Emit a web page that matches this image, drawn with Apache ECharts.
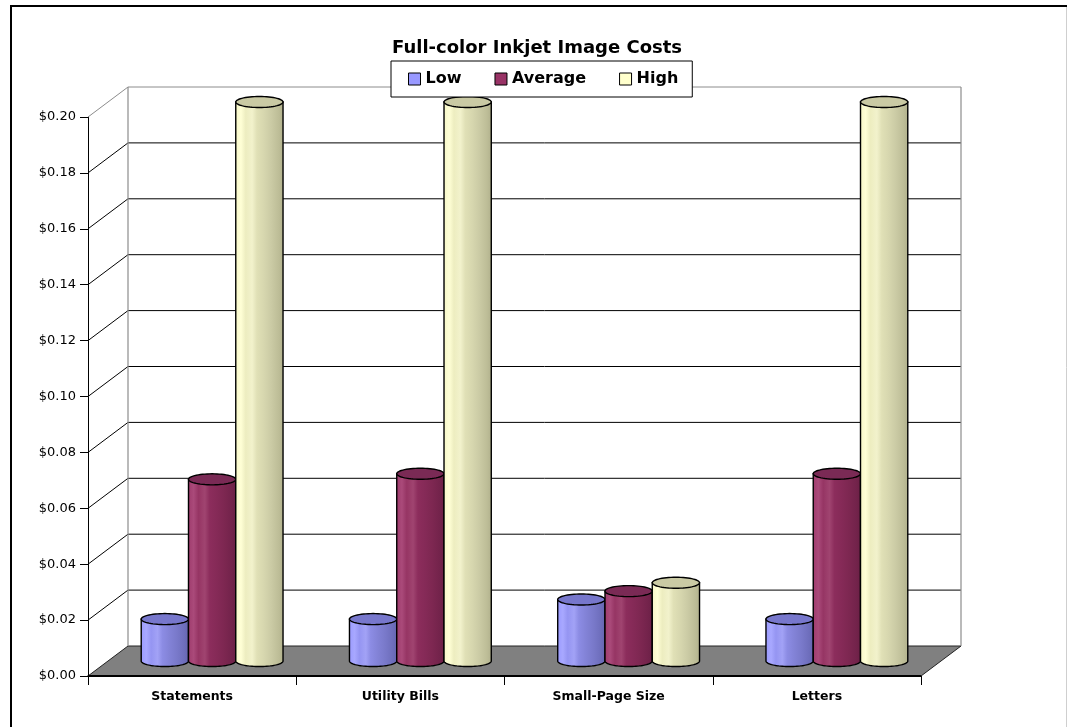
<!DOCTYPE html>
<html>
<head>
<meta charset="utf-8">
<title>Full-color Inkjet Image Costs</title>
<script src="https://cdn.jsdelivr.net/npm/echarts@6/dist/echarts.min.js"></script>
<style>
  html, body { margin: 0; padding: 0; background: #fff; }
  #chart { width: 1068px; height: 727px; }
</style>
</head>
<body>
<div id="chart"></div>
<script>
// ---- data ----
const categories = ['Statements', 'Utility Bills', 'Small-Page Size', 'Letters'];
const lowCost = [0.015, 0.015, 0.022, 0.015];
const averageCost = [0.065, 0.067, 0.025, 0.067];
const highCost = [0.20, 0.20, 0.028, 0.20];
const costTicks = [0, 0.02, 0.04, 0.06, 0.08, 0.10, 0.12, 0.14, 0.16, 0.18, 0.20];

// ---- 3D look: depth offset of the back wall, in pixels ----
const DX = 40, DY = -30;
const BAR_RATIO = 0.227;   // cylinder width as a share of a category band
const RY = 5.5;            // vertical radius of the cylinder ends
const FONT = 'DejaVu Sans';

const palettes = {
  Low: {
    base: '#9999FF', top: '#7777CC',
    body: [[0, '#9A9AFF'], [0.12, '#A8A8FF'], [0.22, '#9595F2'], [0.35, '#A2A2F6'],
           [0.45, '#8C8CE4'], [0.6, '#8282D6'], [0.75, '#7979CA'], [0.9, '#6E6EBC'], [1, '#6464AE']]
  },
  Average: {
    base: '#993366', top: '#7A2A55',
    body: [[0, '#9E3A6C'], [0.12, '#AA4A7A'], [0.22, '#963564'], [0.35, '#A04470'],
           [0.45, '#8C2D5C'], [0.6, '#852A57'], [0.75, '#7D2751'], [0.9, '#73234B'], [1, '#6A2045']]
  },
  High: {
    base: '#FFFFCC', top: '#CACAA4',
    body: [[0, '#F6F6C6'], [0.12, '#FFFFD6'], [0.22, '#EDEDC0'], [0.35, '#F2F2CC'],
           [0.45, '#E0E0B6'], [0.6, '#D6D6AE'], [0.75, '#CACAA4'], [0.9, '#BDBD97'], [1, '#B0B08C']]
  }
};

function ellipsePoints(cx, cy, rx, ry, a0, a1, n) {
  const pts = [];
  for (let i = 0; i <= n; i++) {
    const a = a0 + (a1 - a0) * i / n;
    pts.push([cx + rx * Math.cos(a), cy + ry * Math.sin(a)]);
  }
  return pts;
}

// Draws one cylinder per category; k = position inside the group (-1, 0, 1)
function cylinderRenderer(k, pal) {
  return function (params, api) {
    const cat = api.value(0);
    const v = api.value(1);
    const top = api.coord([cat, v]);
    const base = api.coord([cat, 0]);
    const band = api.size([1, 0])[0];
    const bw = band * BAR_RATIO;
    const rx = bw / 2;
    const cx = top[0] + k * bw + DX / 2;
    const ty = top[1] + DY / 2;
    const by = base[1] + DY / 2;
    const grad = { type: 'linear', x: 0, y: 0, x2: 1, y2: 0,
      colorStops: pal.body.map(s => ({ offset: s[0], color: s[1] })) };
    // body: left side, front (lower) half of the bottom ellipse, right side
    const lower = ellipsePoints(cx, by, rx, RY, Math.PI, 0, 40);
    const bodyPts = [[cx - rx, ty]].concat(lower).concat([[cx + rx, ty]]);
    const cap = ellipsePoints(cx, ty, rx, RY, 0, Math.PI * 2, 60);
    return {
      type: 'group',
      children: [
        { type: 'polygon', shape: { points: bodyPts },
          style: { fill: grad, stroke: '#000', lineWidth: 1.4 } },
        { type: 'polygon', shape: { points: cap },
          style: { fill: pal.top, stroke: '#000', lineWidth: 1.4 } }
      ]
    };
  };
}

// Floor, left wall and back wall with their gridlines
function wallsRenderer(params, api) {
  const cs = params.coordSys;
  const x0 = cs.x, x1 = cs.x + cs.width;
  const y0 = api.coord([0, 0])[1];
  const yMax = api.coord([0, costTicks[costTicks.length - 1]])[1];
  const children = [];
  children.push({ type: 'polygon',
    shape: { points: [[x0, y0], [x1, y0], [x1 + DX, y0 + DY], [x0 + DX, y0 + DY]] },
    style: { fill: '#808080', stroke: '#222', lineWidth: 1 } });
  children.push({ type: 'line', shape: { x1: x0, y1: y0, x2: x1, y2: y0 },
    style: { stroke: '#000', lineWidth: 2 } });
  costTicks.forEach(function (t) {
    if (t === 0) return;
    const y = api.coord([0, t])[1];
    const last = t === costTicks[costTicks.length - 1];
    const col = last ? '#8c8c8c' : '#000';
    children.push({ type: 'line', shape: { x1: x0, y1: y, x2: x0 + DX, y2: y + DY },
      style: { stroke: col, lineWidth: 1 } });
    children.push({ type: 'line', shape: { x1: x0 + DX, y1: y + DY, x2: x1 + DX, y2: y + DY },
      style: { stroke: col, lineWidth: 1 } });
  });
  children.push({ type: 'line', shape: { x1: x0 + DX, y1: yMax + DY, x2: x0 + DX, y2: y0 + DY },
    style: { stroke: '#8c8c8c', lineWidth: 1.2 } });
  children.push({ type: 'line', shape: { x1: x1 + DX, y1: yMax + DY, x2: x1 + DX, y2: y0 + DY },
    style: { stroke: '#8c8c8c', lineWidth: 1.2 } });
  return { type: 'group', children: children };
}

function seriesData(values) {
  return values.map((v, i) => [i, v]);
}

const chart = echarts.init(document.getElementById('chart'), null, { renderer: 'canvas' });

chart.setOption({
  animation: false,
  backgroundColor: '#fff',
  textStyle: { fontFamily: FONT },
  title: {
    text: 'Full-color Inkjet Image Costs',
    left: 392, top: 39, padding: 0,
    textStyle: { fontFamily: FONT, fontSize: 18, fontWeight: 'bold', color: '#000' }
  },
  legend: {
    data: ['Low', 'Average', 'High'],
    left: 391, top: 61,
    padding: [10, 14, 10, 17],
    itemGap: 33,
    itemWidth: 12, itemHeight: 12,
    icon: 'rect',
    backgroundColor: '#fff',
    borderColor: '#000', borderWidth: 1,
    itemStyle: { borderColor: '#000', borderWidth: 1 },
    textStyle: { fontFamily: FONT, fontSize: 16, fontWeight: 'bold', color: '#000' },
    z: 10
  },
  grid: { left: 88, right: 147, top: 117, bottom: 51, containLabel: false },
  xAxis: {
    type: 'category',
    data: categories,
    boundaryGap: true,
    axisLine: { show: true, lineStyle: { color: '#000', width: 1.5 } },
    axisTick: { show: true, alignWithLabel: false, length: 9, lineStyle: { color: '#000' } },
    axisLabel: { fontFamily: FONT, fontSize: 12.5, fontWeight: 'bold', color: '#000', margin: 14 },
    splitLine: { show: false }
  },
  yAxis: {
    type: 'value',
    min: 0, max: 0.2, interval: 0.02,
    axisLine: { show: true, lineStyle: { color: '#000', width: 1 } },
    axisTick: { show: true, length: 8, lineStyle: { color: '#000' } },
    axisLabel: { fontFamily: FONT, fontSize: 13, color: '#000', margin: 12,
      formatter: v => '$' + v.toFixed(2) },
    splitLine: { show: false }
  },
  graphic: [
    { type: 'polyline', shape: { points: [[11, 740], [11, 6], [1067, 6]] },
      style: { stroke: '#000', lineWidth: 2, fill: null }, z: 100 },
    { type: 'line', shape: { x1: 1066.5, y1: 7, x2: 1066.5, y2: 740 },
      style: { stroke: '#cfcfcf', lineWidth: 1 }, z: 100 }
  ],
  series: [
    {
      name: 'walls', type: 'custom', z: 1, silent: true, clip: false,
      data: [[0, 0]], renderItem: wallsRenderer
    },
    {
      name: 'Low', type: 'custom', z: 2, clip: false,
      itemStyle: { color: palettes.Low.base },
      encode: { x: 0, y: 1 },
      data: seriesData(lowCost), renderItem: cylinderRenderer(-1, palettes.Low)
    },
    {
      name: 'Average', type: 'custom', z: 2, clip: false,
      itemStyle: { color: palettes.Average.base },
      encode: { x: 0, y: 1 },
      data: seriesData(averageCost), renderItem: cylinderRenderer(0, palettes.Average)
    },
    {
      name: 'High', type: 'custom', z: 2, clip: false,
      itemStyle: { color: palettes.High.base },
      encode: { x: 0, y: 1 },
      data: seriesData(highCost), renderItem: cylinderRenderer(1, palettes.High)
    }
  ]
});
</script>
</body>
</html>
